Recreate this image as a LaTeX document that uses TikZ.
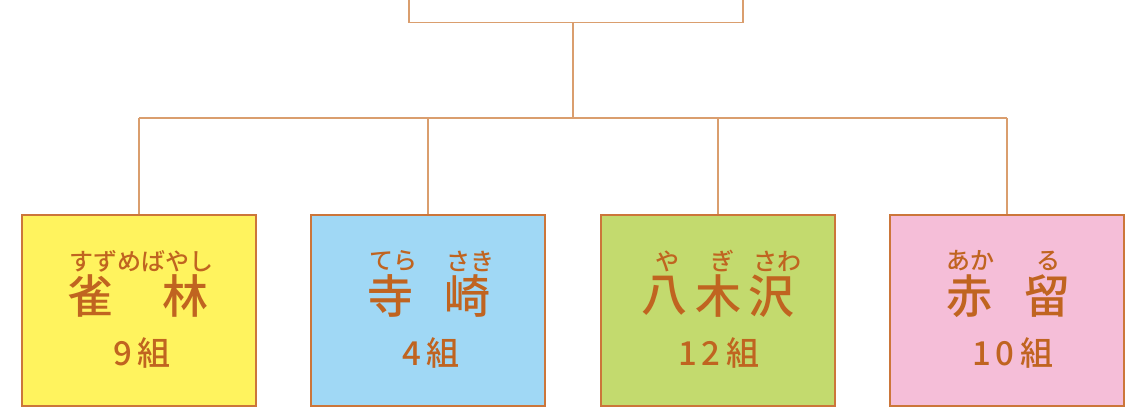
\documentclass[tikz,border=0pt]{standalone}
\usepackage{fontspec}
\newfontfamily\jpm{Noto Sans CJK JP Medium}
\definecolor{txtc}{RGB}{192,100,32}
\definecolor{bordc}{RGB}{204,118,58}
\definecolor{linec}{RGB}{218,158,110}
\definecolor{yel}{RGB}{255,243,94}
\definecolor{blu}{RGB}{160,216,245}
\definecolor{grn}{RGB}{195,218,110}
\definecolor{pnk}{RGB}{245,190,216}
\begin{document}
\begin{tikzpicture}[x=1pt,y=-1pt,
  leaf/.style={draw=bordc, line width=1.2pt, minimum width=234pt, minimum height=191pt, inner sep=0pt},
  topbox/.style={draw=linec, line width=1.3pt, minimum width=334pt, minimum height=60pt, inner sep=0pt},
  conn/.style={draw=linec, line width=1.3pt},
  furi/.style={text=txtc, inner sep=0pt, font=\jpm\fontsize{24pt}{24pt}\selectfont},
  kanji/.style={text=txtc, inner sep=0pt, font=\jpm\fontsize{46pt}{46pt}\selectfont},
  num/.style={text=txtc, inner sep=0pt, font=\jpm\fontsize{33pt}{33pt}\selectfont}]
\useasboundingbox (0,0) rectangle (1145,416);
\node[topbox] (top) at (576,-7.5) {};
\node[leaf, fill=yel] (b1) at (139,310.5) {};
\node[leaf, fill=blu] (b2) at (428,310.5) {};
\node[leaf, fill=grn] (b3) at (718,310.5) {};
\node[leaf, fill=pnk] (b4) at (1007,310.5) {};
\coordinate (j) at (573,118);
\draw[conn] (top.south -| j) -- (j);
\draw[conn] (b1.north |- j) -- (b4.north |- j);
\draw[conn] (b1.north) -- (b1.north |- j);
\draw[conn] (b2.north) -- (b2.north |- j);
\draw[conn] (b3.north) -- (b3.north |- j);
\draw[conn] (b4.north) -- (b4.north |- j);
% yellow
\node[furi] (f1) at (141,261) {すずめばやし};
\node[kanji] (k1a) at (90.5,296) {雀};
\node[kanji] (k1b) at (185.5,296) {林};
\node[num] (n1) at (142,353) {9\kern6pt組};
% blue
\node[furi] (f2a) at (393,261) {てら};
\node[furi] (f2b) at (470,261) {さき};
\node[kanji] (k2a) at (390,296) {寺};
\node[kanji] (k2b) at (467,296) {崎};
\node[num] (n2) at (431,353) {4\kern6pt組};
% green
\node[furi] (f3a) at (667,261) {や};
\node[furi] (f3b) at (722,261) {ぎ};
\node[furi] (f3c) at (777,261) {さわ};
\node[kanji] (k3a) at (664,296) {八};
\node[kanji] (k3b) at (718,296) {木};
\node[kanji] (k3c) at (771,296) {沢};
\node[num] (n3) at (719,353) {1\kern4pt2\kern6pt組};
% pink
\node[furi] (f4a) at (970,261) {あか};
\node[furi] (f4b) at (1048,261) {る};
\node[kanji] (k4a) at (969,296) {赤};
\node[kanji] (k4b) at (1047,296) {留};
\node[num] (n4) at (1013,353) {1\kern4pt0\kern6pt組};
\end{tikzpicture}
\end{document}
